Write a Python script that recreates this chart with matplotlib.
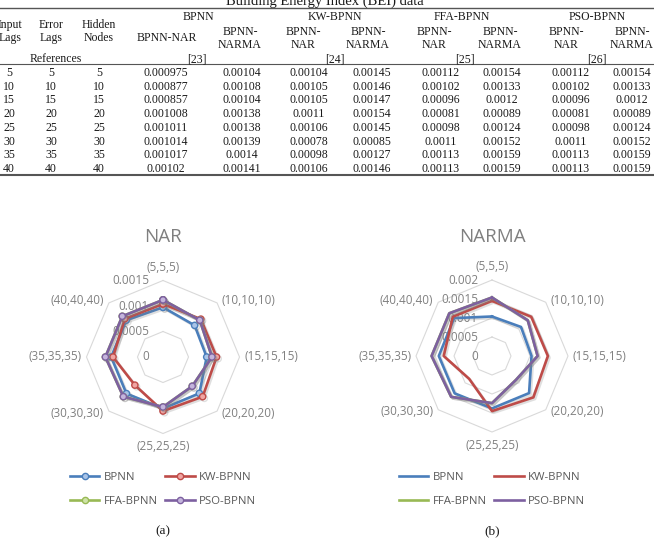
import numpy as np
import matplotlib
matplotlib.use("Agg")
import matplotlib.pyplot as plt
from matplotlib.lines import Line2D
import matplotlib.patheffects as pe

# ---------------- data ----------------
input_lags = [5, 10, 15, 20, 25, 30, 35, 40]
error_lags = [5, 10, 15, 20, 25, 30, 35, 40]
hidden_nodes = [5, 10, 15, 20, 25, 30, 35, 40]

bpnn_nar = [0.000975, 0.000877, 0.000857, 0.001008, 0.001011, 0.001014, 0.001017, 0.00102]
bpnn_narma = [0.00104, 0.00108, 0.00104, 0.00138, 0.00138, 0.00139, 0.0014, 0.00141]
kw_nar = [0.00104, 0.00105, 0.00105, 0.0011, 0.00106, 0.00078, 0.00098, 0.00106]
kw_narma = [0.00145, 0.00146, 0.00147, 0.00154, 0.00145, 0.00085, 0.00127, 0.00146]
ffa_nar = [0.00112, 0.00102, 0.00096, 0.00081, 0.00098, 0.0011, 0.00113, 0.00113]
ffa_narma = [0.00154, 0.00133, 0.0012, 0.00089, 0.00124, 0.00152, 0.00159, 0.00159]
pso_nar = [0.00112, 0.00102, 0.00096, 0.00081, 0.00098, 0.0011, 0.00113, 0.00113]
pso_narma = [0.00154, 0.00133, 0.0012, 0.00089, 0.00124, 0.00152, 0.00159, 0.00159]

series_names = ["BPNN", "KW-BPNN", "FFA-BPNN", "PSO-BPNN"]
references = ["[23]", "[24]", "[25]", "[26]"]
nar_ticks = [0, 0.0005, 0.001, 0.0015]
narma_ticks = [0, 0.0005, 0.001, 0.0015, 0.002]
table_title = "Building Energy Index (BEI) data"

# ---------------- figure ----------------
W, H = 654, 540
fig = plt.figure(figsize=(W / 100, H / 100), dpi=100)

def fx(x):
    return x / W

def fy(y):
    return 1 - y / H

serif = "Liberation Serif"
sans = "Open Sans"
tcol = "#1a1a1a"
tfs = 8.5

def ttext(x, y, s, **kw):
    # y given as visual centre of digits/caps (pixels from top)
    fig.text(fx(x), fy(y + 4), s, ha="center", va="baseline",
             family=serif, fontsize=kw.pop("fs", tfs), color=tcol, **kw)

# title (partially cut at top, as in the source)
fig.text(fx(325), fy(5), table_title, ha="center", va="baseline",
         family=serif, fontsize=10.5, color=tcol)

# rules
for y, lw in [(8, 1.0), (64, 0.8), (175, 1.5)]:
    fig.add_artist(Line2D([0, 1], [fy(y), fy(y)], color="#555555", lw=lw,
                          transform=fig.transFigure))

# group headers
for x, s in zip([198, 335, 462, 597], series_names):
    ttext(x, 16, s)

# column headers
ttext(10, 24, "Input"); ttext(10, 37, "Lags")
ttext(51, 24, "Error"); ttext(51, 37, "Lags")
ttext(99, 24, "Hidden"); ttext(99, 37, "Nodes")
ttext(167, 37, "BPNN-NAR")
for x, s in [(240, "NARMA"), (303, "NAR"), (368, "NARMA"), (434, "NAR"),
             (500, "NARMA"), (566, "NAR"), (632, "NARMA")]:
    ttext(x, 31, "BPNN-")
    ttext(x, 44, s)

# references row
ttext(56, 58, "References")
for x, s in zip([197, 335, 465, 597], references):
    ttext(x, 58, s)

# data rows
row_y = [72, 86, 99, 113, 127, 141, 154, 168]
col_x = [9, 51, 99, 166, 242, 309, 372, 441, 502, 571, 632]
cols = [input_lags, error_lags, hidden_nodes, bpnn_nar, bpnn_narma,
        kw_nar, kw_narma, ffa_nar, ffa_narma, pso_nar, pso_narma]
for cx, col in zip(col_x, cols):
    for ry, v in zip(row_y, col):
        ttext(cx, ry, f"{v:g}")

# ---------------- radar charts ----------------
categories = [f"({a},{b},{c})" for a, b, c in zip(input_lags, error_lags, hidden_nodes)]
n = len(categories)
theta = np.arange(n) * 2 * np.pi / n
theta_c = np.append(theta, theta[0])

colors = ["#4a7ebb", "#be4b48", "#98b954", "#7d60a0"]
faces = ["#a9c4e8", "#f0a5a3", "#cfe3a8", "#c4b5dc"]
grid_col = "#d9d9d9"
lab_col = "#808080"

def radar(cx, cy, rad, ticks, data, title, markers, sub):
    ax = fig.add_axes([fx(cx - rad), fy(cy + rad), 2 * rad / W, 2 * rad / H],
                      projection="polar")
    ax.set_theta_offset(np.pi / 2)
    ax.set_theta_direction(-1)
    ax.set_ylim(0, ticks[-1])
    ax.set_xticks([])
    ax.set_yticks([])
    ax.grid(False)
    ax.spines["polar"].set_visible(False)
    ax.patch.set_alpha(0)
    for r in ticks[1:]:
        ax.plot(theta_c, [r] * (n + 1), color=grid_col, lw=0.8, zorder=1, clip_on=False)
    for r in ticks:
        ax.annotate(f"{r:g}", xy=(0, r), xytext=(-10, 0), textcoords="offset points",
                    ha="right", va="center", fontsize=8.5, family=sans, color=lab_col,
                    annotation_clip=False, zorder=2)
    for th, lab in zip(theta, categories):
        s, c = np.sin(th), np.cos(th)
        ha = "center" if abs(s) < 1e-6 else ("left" if s > 0 else "right")
        if abs(s) < 1e-6:
            va = "bottom" if c > 0 else "top"
            off = (0, 5 * np.sign(c))
        else:
            va = "center"
            off = (3.5 * np.sign(s), 2.0 * c)
        ax.annotate(lab, xy=(th, ticks[-1]), xytext=off, textcoords="offset points",
                    ha=ha, va=va, fontsize=8.5, family=sans, color=lab_col,
                    annotation_clip=False)
    handles = []
    for vals, col, fc, name in zip(data, colors, faces, series_names):
        v = np.append(vals, vals[0])
        kw = dict(marker="o", ms=4.5, mfc=fc, mec=col, mew=1.0) if markers else {}
        ax.plot(theta_c, v, color=col, lw=1.9, zorder=3, clip_on=False,
                path_effects=[pe.SimpleLineShadow(offset=(1.2, -1.2), alpha=0.25,
                                                  shadow_color="gray"),
                              pe.Normal()], **kw)
        handles.append(Line2D([], [], color=col, lw=1.9, **kw))
    fig.text(fx(cx), fy(242), title, ha="center", va="baseline", fontsize=13.5,
             family=sans, color="#7f7f7f")
    # order so rows read: BPNN, KW-BPNN / FFA-BPNN, PSO-BPNN
    order = [0, 2, 1, 3]
    fig.legend([handles[i] for i in order], [series_names[i] for i in order],
               ncol=2, loc="center",
               bbox_to_anchor=(fx(cx), fy(489.5)), frameon=False,
               prop={"family": sans, "size": 8.2}, labelcolor="#595959",
               handlelength=2.6, handletextpad=0.4, labelspacing=1.1,
               columnspacing=0.6, numpoints=1)
    fig.text(fx(cx), fy(534), sub, ha="center", va="baseline", family=serif,
             fontsize=9.5, color=tcol)
    return ax

radar(163, 357, 76.5, nar_ticks, [bpnn_nar, kw_nar, ffa_nar, pso_nar], "NAR", True, "(a)")
radar(492, 356, 76, narma_ticks, [bpnn_narma, kw_narma, ffa_narma, pso_narma], "NARMA", False, "(b)")

fig.savefig("out.png", dpi=100)
